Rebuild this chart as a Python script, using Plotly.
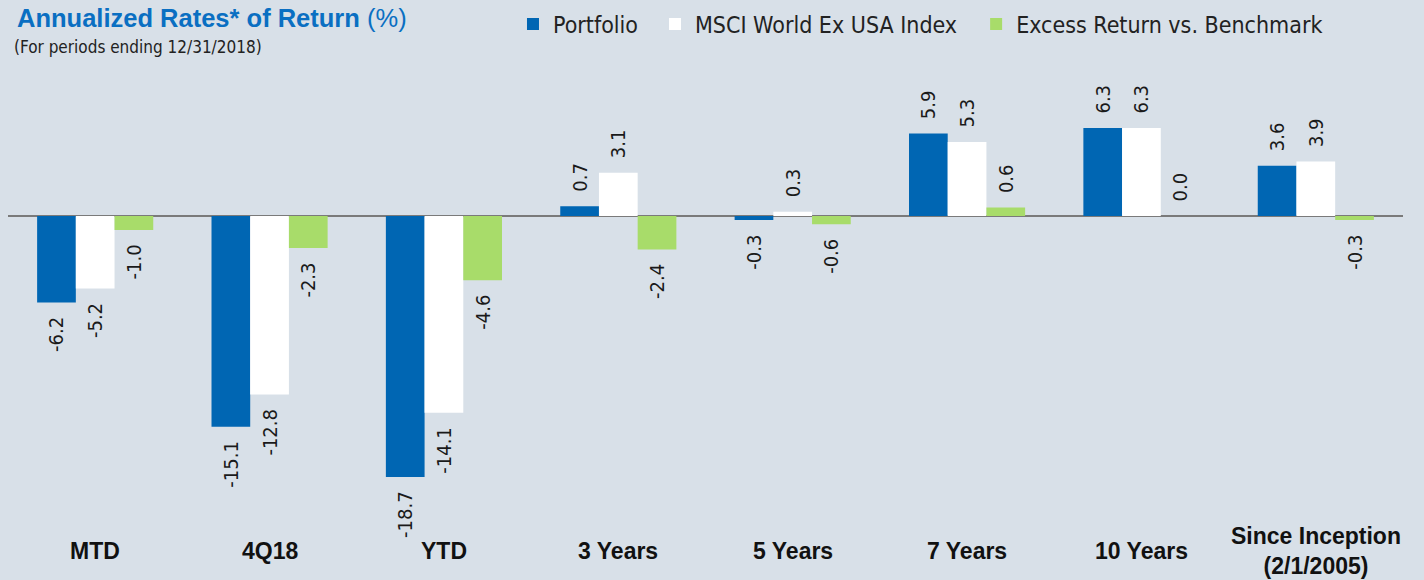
import plotly.graph_objects as go

categories = ["MTD", "4Q18", "YTD", "3 Years", "5 Years", "7 Years", "10 Years", "Since Inception<br>(2/1/2005)"]
portfolio = [-6.2, -15.1, -18.7, 0.7, -0.3, 5.9, 6.3, 3.6]
msci = [-5.2, -12.8, -14.1, 3.1, 0.3, 5.3, 6.3, 3.9]
excess = [-1.0, -2.3, -4.6, -2.4, -0.6, 0.6, 0.0, -0.3]
series_names = ["Portfolio", "MSCI World Ex USA Index", "Excess Return vs. Benchmark"]

BG = "#d8e0e8"
BLUE = "#0066b3"
GREEN = "#a8dc6a"
WHITE = "#ffffff"
NARROW = "Liberation Sans Narrow, Arial Narrow, DejaVu Sans Condensed, sans-serif"
SANS = "Liberation Sans, Arial, Helvetica, sans-serif"

x_idx = list(range(len(categories)))
legend_ids = ["legend", "legend2", "legend3"]
legend_x = [0.362, 0.4638, 0.694]
NB = "\u00a0"


def label(v):
    # pad the side of the rotated label that faces the bar, to keep a gap
    s = f"{v:.1f}"
    return s + NB * 2 if v < 0 else NB * 2 + s


fig = go.Figure()
for name, vals, col, lg in zip(series_names, [portfolio, msci, excess], [BLUE, WHITE, GREEN], legend_ids):
    fig.add_trace(go.Bar(
        name=name, x=x_idx, y=vals, legend=lg,
        marker=dict(color=col, line=dict(width=0)),
        text=[label(v) for v in vals],
        textposition="outside", textangle=-90, constraintext="none",
        textfont=dict(family=NARROW, size=20, color="#1a1a1a"),
        cliponaxis=False,
    ))

legend_common = dict(orientation="h", xanchor="left", yanchor="middle", yref="container",
                     y=1 - 24 / 580,
                     font=dict(family=NARROW, size=23, color="#222222"),
                     bgcolor="rgba(0,0,0,0)", borderwidth=0)

fig.update_layout(
    width=1424, height=580,
    paper_bgcolor=BG, plot_bgcolor=BG,
    margin=dict(l=8, r=21, t=60, b=55, autoexpand=False),
    barmode="group", bargap=0.334, bargroupgap=0,
    showlegend=True,
    legend=dict(x=legend_x[0], **legend_common),
    legend2=dict(x=legend_x[1], **legend_common),
    legend3=dict(x=legend_x[2], **legend_common),
    xaxis=dict(range=[-0.5, 7.5], showticklabels=False, showgrid=False, zeroline=False,
               showline=False, ticks=""),
    yaxis=dict(range=[-22.14, 11.17], showticklabels=False, showgrid=False,
               zeroline=True, zerolinecolor="#7a7a7a", zerolinewidth=1.5,
               showline=False, ticks=""),
    font=dict(family=SANS),
)

for i, c in enumerate(categories):
    fig.add_annotation(x=i, y=-(551 - 525) / 465, xref="x", yref="paper", text=f"<b>{c}</b>",
                       showarrow=False, xanchor="center", yanchor="middle",
                       font=dict(family=SANS, size=23, color="#111111"))

fig.add_annotation(x=0, y=1, xref="paper", yref="paper", xanchor="left", yanchor="middle",
                   xshift=7, yshift=60 - 18,
                   text="<b>Annualized Rates* of Return</b> (%)", showarrow=False,
                   font=dict(family=SANS, size=25.5, color="#0a6fc2"))
fig.add_annotation(x=0, y=1, xref="paper", yref="paper", xanchor="left", yanchor="middle",
                   xshift=4, yshift=60 - 47,
                   text="(For periods ending 12/31/2018)", showarrow=False,
                   font=dict(family=NARROW, size=17, color="#222222"))

fig.write_html("out.html")
